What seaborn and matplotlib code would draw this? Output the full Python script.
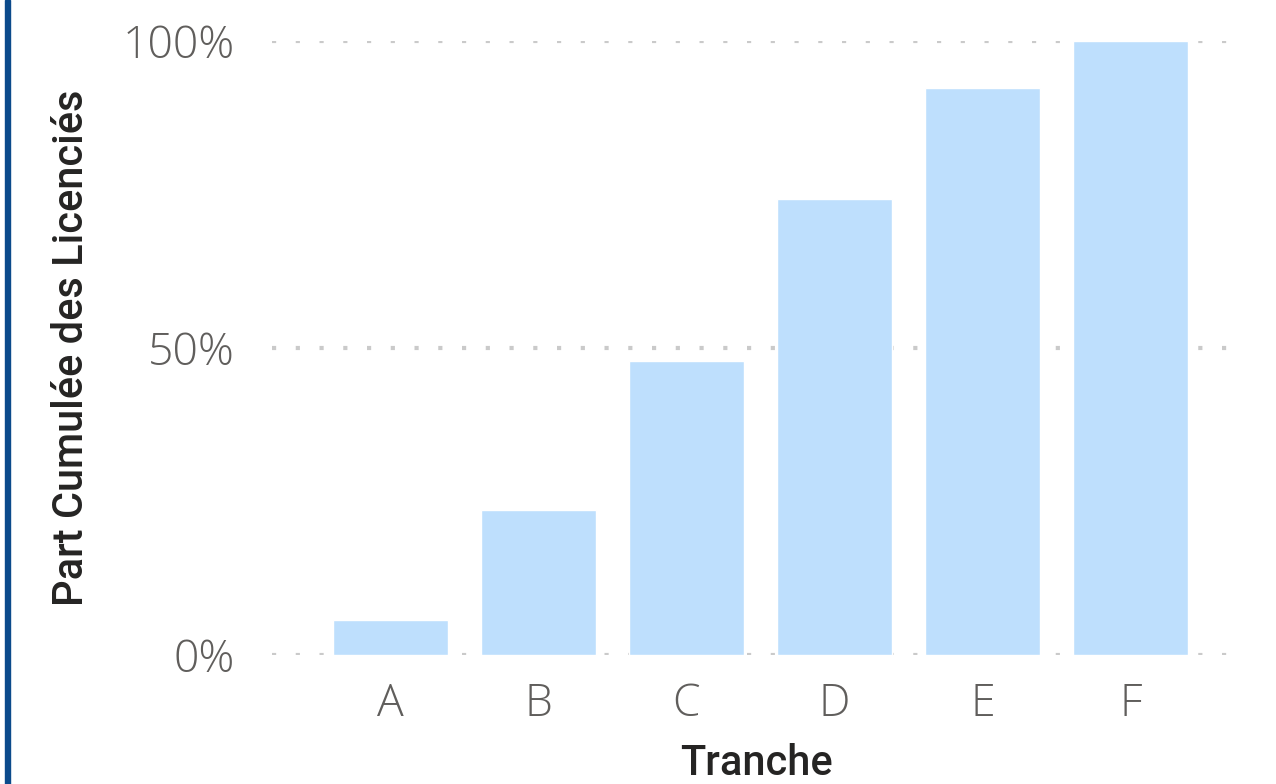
import numpy as np
import pandas as pd
import matplotlib
matplotlib.use("Agg")
import matplotlib.pyplot as plt
import seaborn as sns
from matplotlib.ticker import PercentFormatter
from matplotlib.patches import Rectangle

tranches = ["A", "B", "C", "D", "E", "F"]
part_cumulee = [0.057, 0.236, 0.479, 0.743, 0.923, 1.0]

df = pd.DataFrame({"Tranche": tranches, "Part": part_cumulee})

sns.set_style("white")
plt.rcParams['font.family'] = ['Open Sans', 'DejaVu Sans']

fig = plt.figure(figsize=(12.76, 7.84), dpi=100)
ax = fig.add_axes([0.2132, 0.1645, 0.7586, 0.7832])

sns.barplot(data=df, x="Tranche", y="Part", color="#BEDFFD", saturation=1,
            width=0.78, ax=ax, zorder=2)

ax.set_ylim(0, 1)
ax.set_xlim(-0.80, 5.74)
ax.set_yticks([0, 0.5, 1.0])
ax.yaxis.set_major_formatter(PercentFormatter(1.0, decimals=0))
ax.grid(axis="y", linestyle=(0, (1, 4.7)), color="#CACACA", linewidth=3,
        dash_capstyle="butt", zorder=3)
ax.grid(axis="x", visible=False)
for s in ax.spines.values():
    s.set_visible(False)
ax.tick_params(axis="both", length=0, labelsize=32, labelcolor="#605E5C")
ax.tick_params(axis="y", pad=27)
ax.tick_params(axis="x", pad=20)
for lab in ax.get_xticklabels() + ax.get_yticklabels():
    lab.set_fontweight("light")

lab_font = dict(family=["Roboto", "DejaVu Sans"], size=30, color="#252423", weight="medium")
ax.set_xlabel("Tranche", labelpad=11, **lab_font)
ax.set_ylabel("Part Cumulée des Licenciés", labelpad=22, **lab_font)

fig.patches.append(Rectangle((0.004, 0), 0.0035, 1, transform=fig.transFigure,
                             color="#0B4A8B", zorder=5))

fig.savefig("out.png", dpi=100)
